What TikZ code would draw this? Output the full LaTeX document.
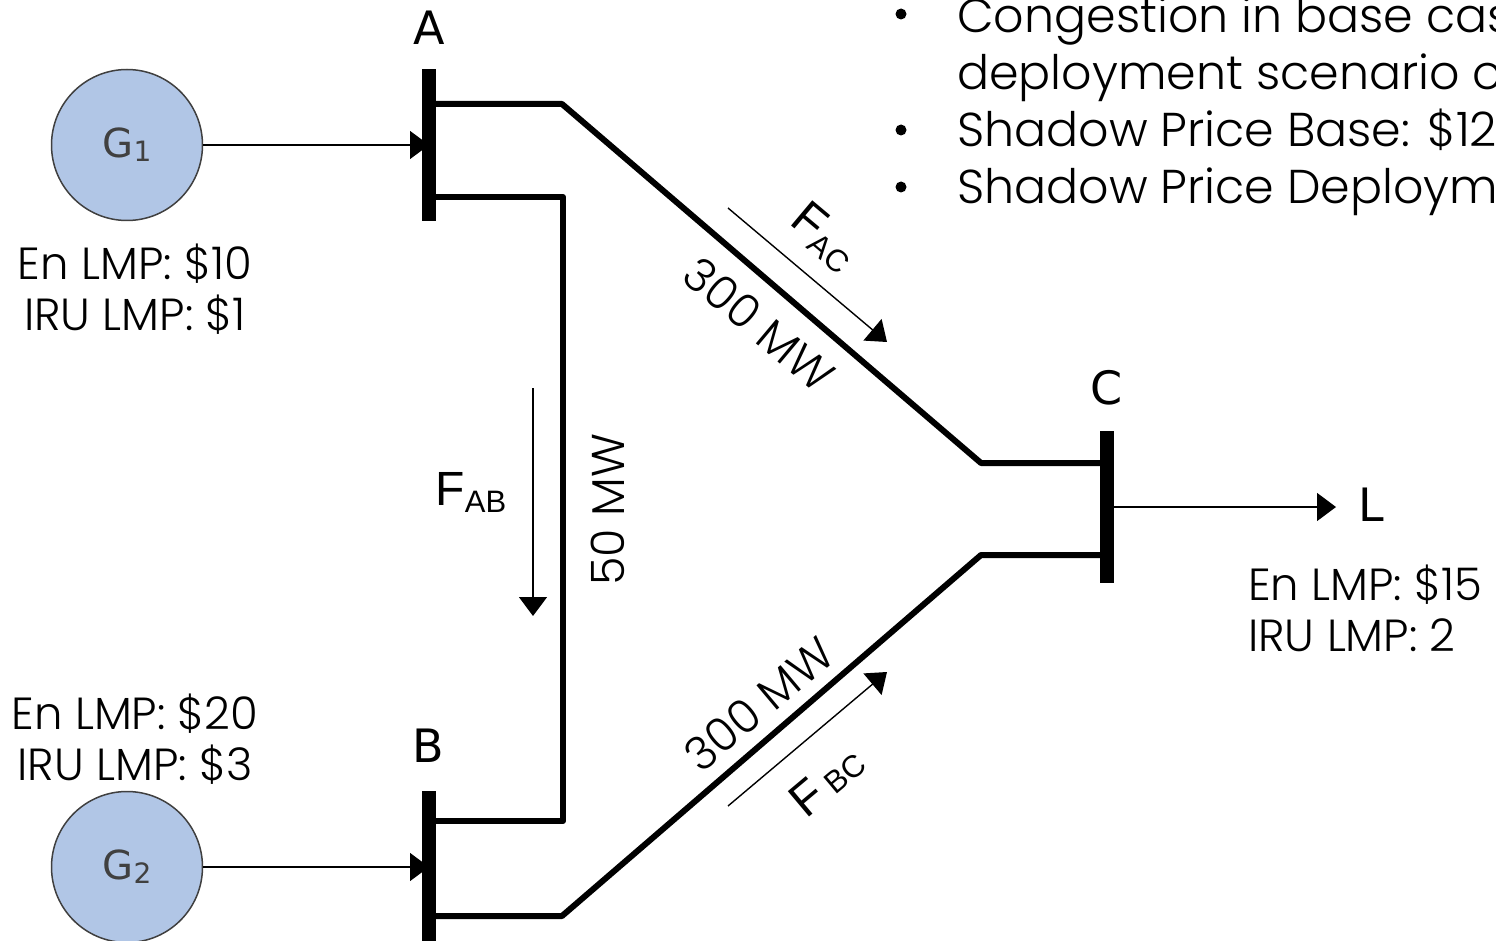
\documentclass[tikz,border=0pt]{standalone}
\usepackage{fontspec}
\setmainfont{Poppins}[UprightFont=* Light]
\newfontfamily\arialf{Liberation Sans}
\newfontfamily\genf{DejaVu Sans}
\usetikzlibrary{arrows.meta}
\tikzset{
  gen/.style={circle,draw=black!75,line width=1.5pt,fill=genblue,minimum size=151pt,inner sep=0pt,text=black!75,font=\genf\fontsize{40}{40}\selectfont},
  busbar/.style={fill=black,inner sep=0pt,minimum width=14pt,minimum height=152pt},
  lineseg/.style={line width=6pt,line join=round},
  flow/.style={line width=1.4pt,-{Triangle[length=19pt,width=28pt]}},
  price/.style={inner sep=0pt,align=center,font=\fontsize{45}{51}\selectfont},
  rating/.style={inner sep=0pt,font=\fontsize{46}{46}\selectfont},
  busname/.style={inner sep=0pt,font=\genf\fontsize{46}{46}\selectfont},
  flowname/.style={inner sep=0pt,font=\arialf\fontsize{48}{48}\selectfont},
  bullettext/.style={inner sep=0pt,anchor=base west,font=\fontsize{47.5}{47.5}\selectfont},
  bulletmark/.style={circle,fill=black,inner sep=0pt,minimum size=11pt}
}
\newcommand{\flowidx}[1]{{\fontsize{31}{31}\selectfont #1}}
\newcommand{\gensub}[1]{\raisebox{-6pt}{G\raisebox{-4pt}{\fontsize{28}{28}\selectfont #1}}}
\definecolor{genblue}{HTML}{B1C6E6}
\begin{document}
\begin{tikzpicture}[x=1pt,y=-1pt]
\useasboundingbox (0,0) rectangle (1496,941);
% generators and buses
\node[gen] (g1) at (127,145) {\gensub{1}};
\node[gen] (g2) at (127,867) {\gensub{2}};
\draw[flow] (g1) -- (429,145) coordinate (g1end);
\draw[flow] (g2) -- (429,867) coordinate (g2end);
\node[busbar] (busA) at (429,145) {};
\node[busbar] (busB) at (429,867) {};
\node[busbar] (busC) at (1107,507) {};
% bus names
\node[busname] (nameA) at (429,28) {A};
\node[busname] (nameB) at (428,746) {B};
\node[busname] (nameC) at (1107,388) {C};
\node[busname,anchor=west] (nameL) at (1358,505) {L};
% lines
\coordinate (ac1) at (562,104);
\coordinate (ac2) at (981,463);
\coordinate (ab1) at (563,197);
\coordinate (ab2) at (563,821);
\coordinate (bc1) at (562,916);
\coordinate (bc2) at (981,555);
\draw[lineseg] (busA.east |- ac1) -- (ac1) -- (ac2) -- (busC.west |- ac2);
\draw[lineseg] (busA.east |- ab1) -- (ab1) -- (ab2) -- (busB.east |- ab2);
\draw[lineseg] (busB.east |- bc1) -- (bc1) -- (bc2) -- (busC.west |- bc2);
% flows
\draw[flow,shorten >=22pt] (busC.east) -- (busC.east -| nameL.west);
\coordinate (fab1) at (533,388);
\coordinate (fab2) at (533,616);
\coordinate (fac1) at (728,208);
\coordinate (fac2) at (887,342);
\coordinate (fbc1) at (728,806);
\coordinate (fbc2) at (887,672);
\draw[flow] (fab1) -- (fab2);
\draw[flow] (fac1) -- (fac2);
\draw[flow] (fbc1) -- (fbc2);
% flow names
\node[flowname] (lab) at (471,492) {F\raisebox{-7pt}{\flowidx{AB}}};
\node[flowname,rotate=-40] (lac) at (824,237) {F\raisebox{-7pt}{\flowidx{AC}}};
\node[flowname,rotate=40] (lbc) at (827,781) {F\,\flowidx{BC}};
% ratings
\node[rating,rotate=-40] (r1) at (759,324) {300 MW};
\node[rating,rotate=40] (r2) at (759,704) {300 MW};
\node[rating,rotate=90] (r3) at (608,510) {50 MW};
% prices
\node[price] (p1) at (135,289) {En LMP: \$10\\IRU LMP: \$1};
\node[price] (p2) at (135,739) {En LMP: \$20\\IRU LMP: \$3};
\node[price,align=left,anchor=west] (p3) at (1248,608) {En LMP: \$15\\IRU LMP: 2};
% bullets
\node[bulletmark] (b1) at (901,14) {};
\node[bulletmark] (b2) at (901,130) {};
\node[bulletmark] (b3) at (901,187) {};
\node[bullettext] (t1) at (957,33) {Congestion in base cas};
\node[bullettext] (t2) at (957,90) {deployment scenario o};
\node[bullettext] (t3) at (957,147) {Shadow Price Base: \$12};
\node[bullettext] (t4) at (957,204) {Shadow Price Deploym};
\end{tikzpicture}
\end{document}
